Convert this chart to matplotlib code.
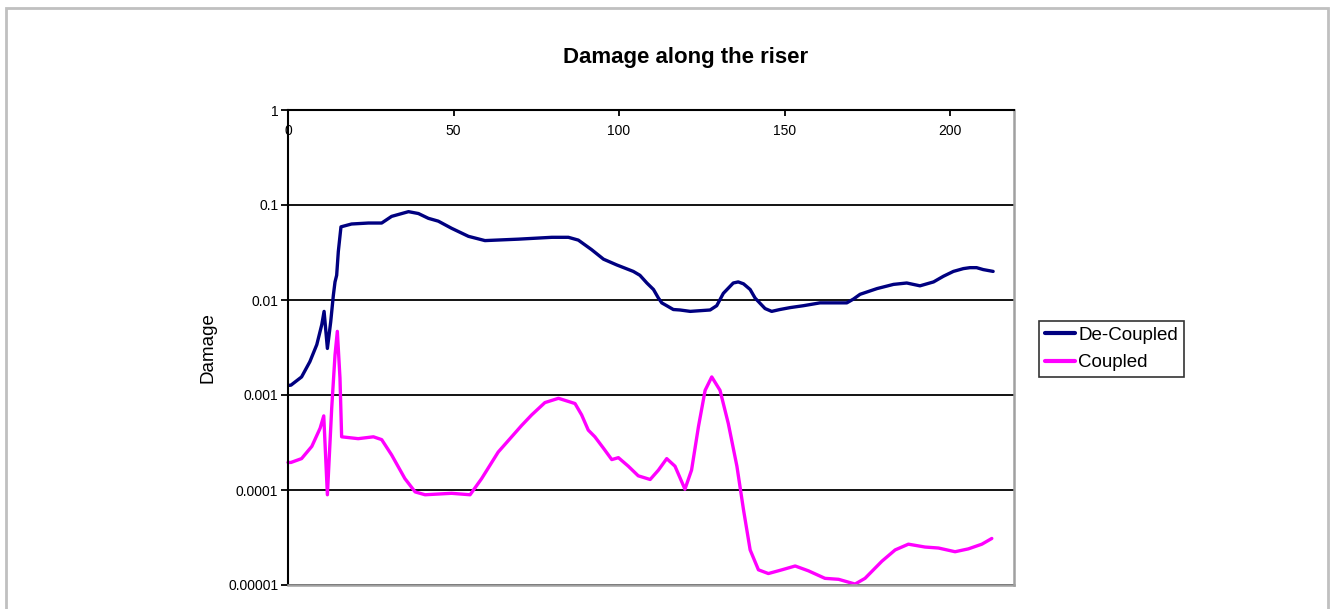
import matplotlib
matplotlib.use("Agg")
import matplotlib.pyplot as plt
from matplotlib.patches import Rectangle
from matplotlib.ticker import FixedLocator, NullLocator

plt.rcParams['font.family'] = ['Liberation Sans', 'DejaVu Sans']

# ---- data ----
decoupled_x = [0, 0.9, 4.1, 6.6, 8.7, 10.2, 10.9, 11.9, 12.9, 13.7, 14.2, 14.7, 15.2, 16.0,
               19.2, 24.3, 28.3, 31.3, 36.4, 39.4, 42.4, 45.4, 49.4, 54.5, 59.5, 69.6,
               79.7, 84.7, 87.7, 91.7, 95.3, 99.3, 104.3, 106.3, 108.4, 110.4, 111.9,
               112.9, 114.4, 116.4, 118.4, 121.5, 127.5, 129.5, 131.5, 134.5, 136, 137.6,
               139.6, 141.1, 144.1, 146.1, 148.6, 151.7, 155.7, 160.7, 164.7, 168.8,
               170.8, 172.8, 177.9, 182.9, 186.9, 190.9, 195, 198, 201, 204, 206, 208,
               210, 213]
decoupled_y = [1.26e-3, 1.27e-3, 1.549e-3, 2.24e-3, 3.39e-3, 5.50e-3, 7.59e-3, 3.09e-3,
               5.89e-3, 1.122e-2, 1.549e-2, 1.82e-2, 3.24e-2, 5.89e-2, 6.31e-2, 6.46e-2,
               6.46e-2, 7.59e-2, 8.51e-2, 8.13e-2, 7.24e-2, 6.76e-2, 5.69e-2, 4.68e-2,
               4.22e-2, 4.37e-2, 4.57e-2, 4.57e-2, 4.27e-2, 3.39e-2, 2.69e-2, 2.34e-2,
               2.00e-2, 1.82e-2, 1.51e-2, 1.29e-2, 1.047e-2, 9.33e-3, 8.71e-3, 7.94e-3,
               7.85e-3, 7.59e-3, 7.85e-3, 8.71e-3, 1.175e-2, 1.51e-2, 1.55e-2, 1.48e-2,
               1.29e-2, 1.047e-2, 8.13e-3, 7.59e-3, 7.94e-3, 8.32e-3, 8.71e-3, 9.33e-3,
               9.33e-3, 9.33e-3, 1.023e-2, 1.148e-2, 1.318e-2, 1.46e-2, 1.51e-2, 1.41e-2,
               1.55e-2, 1.78e-2, 2.00e-2, 2.14e-2, 2.19e-2, 2.19e-2, 2.09e-2, 2.00e-2]

coupled_x = [0, 0.9, 4.1, 7.2, 9.7, 10.8, 11.9, 13.2, 14.2, 14.9, 15.7, 16.2, 21.2, 25.8,
             28.3, 31.3, 35.3, 38.4, 41.4, 49.4, 55, 58.5, 63.5, 70.6, 73.6, 77.6, 81.7,
             86.7, 88.7, 90.7, 92.7, 95.3, 97.8, 99.8, 102.8, 105.8, 109.4, 111.9, 114.4,
             116.9, 119.9, 121.9, 124, 126, 128, 130.5, 133, 135.6, 137.6, 139.6, 142.1,
             145.1, 149.2, 153.2, 157.2, 162.2, 166.3, 171.3, 174.3, 179.4, 183.4, 187.4,
             192.4, 196.5, 201.5, 205.5, 209.6, 212.6]
coupled_y = [1.95e-4, 1.95e-4, 2.14e-4, 2.88e-4, 4.47e-4, 6.03e-4, 8.91e-5, 7.24e-4,
             2.63e-3, 4.68e-3, 1.51e-3, 3.63e-4, 3.47e-4, 3.63e-4, 3.39e-4, 2.34e-4,
             1.32e-4, 9.55e-5, 8.91e-5, 9.23e-5, 8.91e-5, 1.32e-4, 2.51e-4, 4.79e-4,
             6.17e-4, 8.32e-4, 9.23e-4, 8.13e-4, 6.17e-4, 4.27e-4, 3.63e-4, 2.75e-4,
             2.09e-4, 2.19e-4, 1.78e-4, 1.41e-4, 1.29e-4, 1.62e-4, 2.14e-4, 1.78e-4,
             1.02e-4, 1.62e-4, 4.68e-4, 1.12e-3, 1.55e-3, 1.12e-3, 5.01e-4, 1.78e-4,
             6.17e-5, 2.34e-5, 1.445e-5, 1.32e-5, 1.445e-5, 1.585e-5, 1.41e-5, 1.175e-5,
             1.148e-5, 1.023e-5, 1.175e-5, 1.78e-5, 2.34e-5, 2.69e-5, 2.51e-5, 2.45e-5,
             2.24e-5, 2.40e-5, 2.69e-5, 3.09e-5]

x_ticks = [0, 50, 100, 150, 200]
y_ticks = [1, 0.1, 0.01, 0.001, 0.0001, 0.00001]
y_tick_labels = ['1', '0.1', '0.01', '0.001', '0.0001', '0.00001']
series_names = ['De-Coupled', 'Coupled']
title = 'Damage along the riser'
ylabel = 'Damage'

# ---- figure ----
W, H = 1331, 609
fig = plt.figure(figsize=(W / 100, H / 100), dpi=100)
fig.patch.set_facecolor('white')

# outer chart frame
fig.patches.append(Rectangle((6 / W, -0.05), (1328 - 6) / W, 1.05 - 8 / H,
                             transform=fig.transFigure, fill=False,
                             edgecolor='#c0c0c0', linewidth=2))

ax = fig.add_axes([288 / W, 1 - 585 / H, (1014 - 288) / W, (585 - 110) / H])
ax.plot(decoupled_x, decoupled_y, color='#000080', linewidth=2.4,
        label=series_names[0], solid_joinstyle='round', solid_capstyle='round')
ax.plot(coupled_x, coupled_y, color='#ff00ff', linewidth=2.4,
        label=series_names[1], clip_on=False, solid_joinstyle='round',
        solid_capstyle='round')

ax.set_yscale('log')
ax.set_ylim(1e-5, 1)
ax.set_xlim(0, 219.3)

ax.yaxis.set_major_locator(FixedLocator(y_ticks))
ax.yaxis.set_minor_locator(NullLocator())
ax.set_yticklabels(y_tick_labels)
ax.set_xticks(x_ticks)
ax.set_xticklabels([str(t) for t in x_ticks])

ax.grid(True, axis='y', color='black', linewidth=1.3)
ax.set_axisbelow(True)

ax.tick_params(axis='y', direction='out', length=5, width=1.3, labelsize=10,
               pad=2, colors='black')
ax.tick_params(axis='x', top=True, bottom=False, labeltop=True, labelbottom=False,
               direction='in', length=4, width=1.3, labelsize=10, pad=-20)

for s in ['left', 'top']:
    ax.spines[s].set_color('black')
    ax.spines[s].set_linewidth(1.5)
for s in ['right', 'bottom']:
    ax.spines[s].set_color('#a0a0a0')
    ax.spines[s].set_linewidth(1.8)

fig.text(685.5 / W, 1 - 57 / H, title, ha='center', va='center',
         fontsize=16, fontweight='bold')
fig.text(208 / W, 1 - 348 / H, ylabel, ha='center', va='center',
         rotation=90, fontsize=13.5)

leg = ax.legend(loc='upper left', bbox_to_anchor=(1039 / W, 1 - 321 / H),
                bbox_transform=fig.transFigure, borderaxespad=0, fontsize=13.5,
                frameon=True, fancybox=False, handlelength=1.6, handletextpad=0.2,
                labelspacing=0.55, borderpad=0.3)
leg.get_frame().set_edgecolor('black')
leg.get_frame().set_linewidth(1.2)
for line in leg.get_lines():
    line.set_linewidth(3)

fig.savefig('out.png', dpi=100)
